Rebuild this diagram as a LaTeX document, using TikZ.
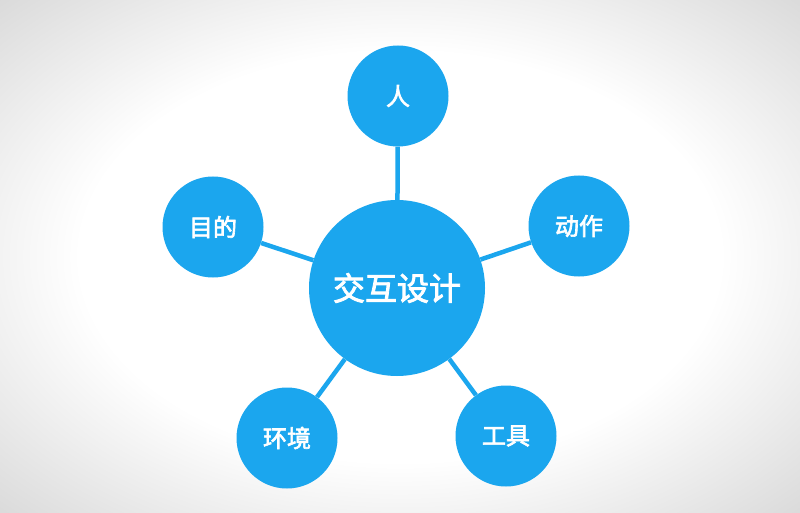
\documentclass[tikz,border=0pt]{standalone}
\usepackage{fontspec}
\newfontfamily\cjk[FakeBold=2.6]{Noto Sans CJK SC}
\definecolor{nodeblue}{HTML}{1BA6EE}
\pgfdeclareradialshading{vignette}{\pgfpoint{0bp}{0bp}}{color(0bp)=(white); color(20bp)=(white); color(50bp)=(black!28); color(72bp)=(black!40)}
\tikzset{
  hub/.style={circle, fill=nodeblue, minimum size=176pt, inner sep=0pt, text=white, font=\cjk\fontsize{32pt}{32pt}\selectfont},
  leaf/.style={circle, fill=nodeblue, minimum size=101pt, inner sep=0pt, text=white, font=\cjk\fontsize{24pt}{24pt}\selectfont},
  link/.style={draw=nodeblue, line width=4.5pt}
}
\begin{document}
\begin{tikzpicture}[x=1pt,y=-1pt]
\useasboundingbox (0,0) rectangle (800,513);
\shade[shading=vignette] (0,0) rectangle (800,513);
\node[hub]  (c)  at (397,288) {交互设计};
\node[leaf] (r)  at (398,96)  {人};
\node[leaf] (m)  at (213,227) {目的};
\node[leaf] (d)  at (579,226) {动作};
\node[leaf] (h)  at (287,438) {环境};
\node[leaf] (g)  at (506,436) {工具};
\draw[link] (c) -- (r);
\draw[link] (c) -- (m);
\draw[link] (c) -- (d);
\draw[link] (c) -- (h);
\draw[link] (c) -- (g);
\end{tikzpicture}
\end{document}
